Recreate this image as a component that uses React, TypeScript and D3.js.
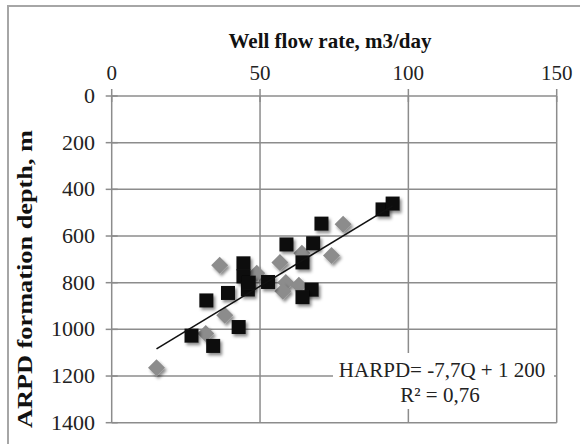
import React from "react";
import * as d3 from "d3";

const X_TICKS = [0, 50, 100, 150];
const Y_TICKS = [0, 200, 400, 600, 800, 1000, 1200, 1400];

// Series A: black squares (flow rate Q, depth m)
const SQUARE_Q = [91.3, 94.7, 70.7, 67.9, 58.9, 64.3, 52.7, 67.4, 64.3, 44.4, 44.4, 45.9, 46.2, 39.2, 31.9, 42.8, 26.9, 34.2];
const SQUARE_D = [486, 461, 547, 631, 636, 713, 797, 830, 862, 717, 773, 829, 800, 844, 876, 990, 1027, 1071];

// Series B: grey diamonds
const DIAMOND_Q = [15.1, 38.1, 31.7, 36.4, 48.9, 56.7, 64.1, 58.7, 63.1, 57.7, 78.0, 74.1];
const DIAMOND_D = [1165, 940, 1018, 725, 760, 713, 674, 799, 811, 837, 550, 683];

const TREND_SLOPE = -7.7;
const TREND_INTERCEPT = 1200;
const EQUATION = "HARPD= -7,7Q + 1 200";
const R2_TEXT = "R² = 0,76";
const X_TITLE = "Well flow rate, m3/day";
const Y_TITLE = "ARPD  formation depth, m";

const W = 580;
const H = 444;
const FONT = "'Liberation Serif', 'Times New Roman', serif";

export default function App() {
  const x = d3.scaleLinear().domain([0, 150]).range([111.7, 556.7]);
  const y = d3.scaleLinear().domain([0, 1400]).range([96, 422.7]);
  const grid = "#8c8c8c";

  const allQ = [...SQUARE_Q, ...DIAMOND_Q];
  const qMin = d3.min(allQ)!;
  const qMax = d3.max(allQ)!;
  const trend = d3.line<number>()
    .x((q) => x(q))
    .y((q) => y(TREND_INTERCEPT + TREND_SLOPE * q));

  const sq = 14;
  const dm = 8.5;

  return (
    <div style={{ position: "absolute", left: 0, top: 0 }}>
      <svg width={W} height={H} style={{ display: "block", background: "#fff" }}>
        <defs>
          <filter id="sh" x="-50%" y="-50%" width="200%" height="200%">
            <feDropShadow dx="2" dy="2.5" stdDeviation="1.6" floodColor="#000" floodOpacity="0.45" />
          </filter>
        </defs>
        <rect x={8} y={6} width={W + 10} height={H + 10} fill="#fff" stroke="#a6a6a6" strokeWidth={2} />

        {/* grid */}
        {X_TICKS.map((t) => (
          <line key={"gx" + t} x1={x(t)} x2={x(t)} y1={y(0)} y2={y(1400)} stroke={grid} strokeWidth={1.5} />
        ))}
        {Y_TICKS.map((t) => (
          <line key={"gy" + t} x1={x(0)} x2={x(150)} y1={y(t)} y2={y(t)} stroke={grid} strokeWidth={1.5} />
        ))}
        {/* cross ticks */}
        {X_TICKS.map((t) => (
          <line key={"tx" + t} x1={x(t)} x2={x(t)} y1={y(0) - 7} y2={y(0) + 6} stroke={grid} strokeWidth={1.5} />
        ))}
        {Y_TICKS.map((t) => (
          <line key={"ty" + t} x1={x(0) - 6} x2={x(0) + 6} y1={y(t)} y2={y(t)} stroke={grid} strokeWidth={1.5} />
        ))}

        {/* tick labels */}
        {X_TICKS.map((t) => (
          <text key={"lx" + t} x={x(t)} y={80} textAnchor="middle" fontFamily={FONT} fontSize={21} fill="#222">
            {t}
          </text>
        ))}
        {Y_TICKS.map((t) => (
          <text key={"ly" + t} x={95} y={y(t) + 7} textAnchor="end" fontFamily={FONT} fontSize={22} fill="#222">
            {t}
          </text>
        ))}

        {/* titles */}
        <text x={330} y={48} textAnchor="middle" fontFamily={FONT} fontSize={21} fontWeight="bold" fill="#111">
          {X_TITLE}
        </text>
        <text
          transform={`translate(32,279) rotate(-90)`}
          textAnchor="middle"
          fontFamily={FONT}
          fontSize={22}
          fontWeight="bold"
          fill="#111"
          textLength={298}
          lengthAdjust="spacingAndGlyphs"
        >
          {Y_TITLE}
        </text>

        {/* diamonds */}
        {DIAMOND_Q.map((q, i) => (
          <path
            key={"d" + i}
            d={`M${x(q)},${y(DIAMOND_D[i]) - dm}L${x(q) + dm},${y(DIAMOND_D[i])}L${x(q)},${y(DIAMOND_D[i]) + dm}L${x(q) - dm},${y(DIAMOND_D[i])}Z`}
            fill="#8c8c8c"
            filter="url(#sh)"
          />
        ))}
        {/* squares */}
        {SQUARE_Q.map((q, i) => (
          <rect
            key={"s" + i}
            x={x(q) - sq / 2}
            y={y(SQUARE_D[i]) - sq / 2}
            width={sq}
            height={sq}
            fill="#0e0e0e"
            filter="url(#sh)"
          />
        ))}

        {/* trendline */}
        <path d={trend([qMin, qMax]) ?? ""} fill="none" stroke="#111" strokeWidth={1.6} />

        {/* equation label */}
        <rect x={333} y={353} width={221} height={56} fill="#fff" />
        <text x={442} y={377} textAnchor="middle" fontFamily={FONT} fontSize={21} fill="#222">
          {EQUATION}
        </text>
        <text x={440} y={402} textAnchor="middle" fontFamily={FONT} fontSize={21} fill="#222">
          {R2_TEXT}
        </text>
      </svg>
    </div>
  );
}
